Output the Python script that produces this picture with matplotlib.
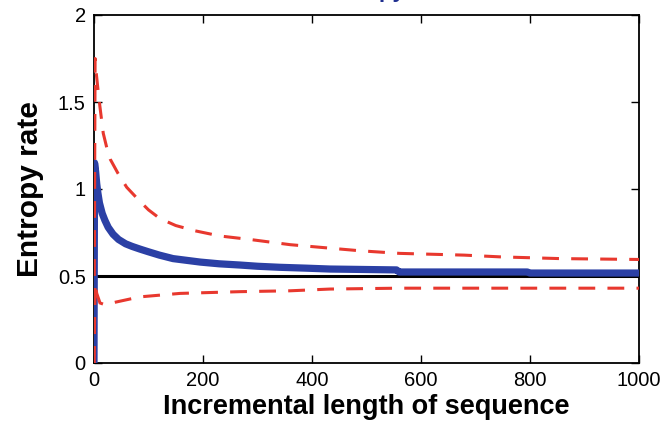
import matplotlib
matplotlib.use("Agg")
import matplotlib.pyplot as plt

plt.rcParams['font.family'] = ['Liberation Sans', 'DejaVu Sans']

# Estimated entropy-rate (blue) and confidence bounds (red dashed)
x_mean = [0, 1, 3, 5, 7, 10, 15, 20, 26, 35, 45, 58, 70, 84, 99, 120, 145, 170, 195, 230, 268, 300, 341, 390, 433, 555, 560, 795, 800, 1000]
y_mean = [0.0, 1.15, 1.10, 1.03, 0.98, 0.92, 0.86, 0.82, 0.78, 0.74, 0.71, 0.685, 0.67, 0.655, 0.64, 0.62, 0.60, 0.59, 0.58, 0.57, 0.563, 0.556, 0.55, 0.545, 0.54, 0.535, 0.523, 0.523, 0.517, 0.517]

x_upper = [0, 2, 4, 8, 11, 17, 24, 30, 44, 60, 84, 100, 121, 150, 185, 231, 286, 360, 433, 488, 561, 679, 745, 855, 1000]
y_upper = [0.0, 1.75, 1.67, 1.55, 1.47, 1.32, 1.23, 1.17, 1.09, 1.01, 0.93, 0.88, 0.83, 0.79, 0.76, 0.73, 0.71, 0.68, 0.66, 0.645, 0.63, 0.62, 0.61, 0.60, 0.595]

x_lower = [0, 2, 5, 11, 20, 40, 84, 158, 268, 360, 433, 560, 1000]
y_lower = [0.0, 0.46, 0.40, 0.345, 0.335, 0.35, 0.38, 0.40, 0.41, 0.415, 0.425, 0.43, 0.43]

ref_level = 0.5

fig = plt.figure(figsize=(6.62, 4.30), dpi=100)
ax = fig.add_axes([94/662, 1-363/430, (639-94)/662, (363-15)/430])

ax.axhline(ref_level, color='black', lw=2.2, zorder=2)
ax.plot(x_mean, y_mean, color='#2b40a5', lw=5.2, zorder=3, solid_capstyle='butt')
red = '#e8382e'
ax.plot(x_upper, y_upper, color=red, lw=2.2, dashes=(5.5, 4), zorder=4)
ax.plot(x_lower, y_lower, color=red, lw=2.2, dashes=(5.5, 4), zorder=4)

ax.set_xlim(0, 1000)
ax.set_ylim(0, 2)
ax.set_xticks([0, 200, 400, 600, 800, 1000])
ax.set_yticks([0, 0.5, 1, 1.5, 2])
ax.set_yticklabels(['0', '0.5', '1', '1.5', '2'])
ax.tick_params(direction='in', top=True, right=True, length=6, width=1, labelsize=14.5, pad=6)
for s in ax.spines.values():
    s.set_linewidth(1.3)

ax.set_xlabel('Incremental length of sequence', fontsize=19.5, fontweight='bold', labelpad=3)
ax.set_ylabel('Entropy rate', fontsize=21.5, fontweight='bold', labelpad=10)

fig.text(405/662, 1 + 3/430, 'Entropy', color='#1f2f8f', fontsize=16, fontweight='bold',
         ha='right', va='baseline')

fig.savefig('out.png', dpi=100)
